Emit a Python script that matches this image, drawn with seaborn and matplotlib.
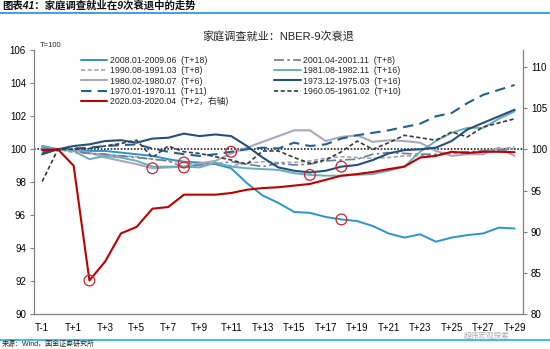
import numpy as np
import pandas as pd
import matplotlib
matplotlib.use("Agg")
import matplotlib.pyplot as plt
from matplotlib.lines import Line2D
import seaborn as sns

sns.set_style("white")
plt.rcParams['font.family'] = ['Liberation Sans', 'Noto Sans CJK SC', 'DejaVu Sans']
plt.rcParams['axes.unicode_minus'] = False

# ---------------- data ----------------
x_labels = ["T-1"] + [f"T+{k}" for k in range(0, 30)]

s2008 = [100.2, 100.0, 99.95, 99.9, 99.9, 99.8, 99.7, 99.6, 99.4, 99.25, 99.2, 99.1, 98.85, 97.95, 97.2,
         96.75, 96.2, 96.15, 95.9, 95.75, 95.65, 95.35, 94.9, 94.65, 94.85, 94.4, 94.65, 94.8, 94.9, 95.25, 95.2]
s1990 = [100.05, 100.0, 99.8, 99.75, 99.7, 99.6, 99.55, 99.4, 99.3, 99.2, 99.1, 99.1, 99.0, 99.15, 99.25,
         99.2, 99.2, 99.3, 99.45, 99.55, 99.5, 99.45, 99.5, 99.6, 99.6, 99.65, 99.75, 99.75, 99.9, 100.0, 100.15]
s1980 = [100.1, 100.0, 99.95, 99.8, 99.5, 99.3, 99.1, 98.85, 98.9, 98.95, 99.15, 99.3, 99.75, 100.1, 100.45,
         100.8, 101.15, 101.15, 100.5, 100.75, 100.85, 100.45, 100.55, 100.5, 100.4, 99.9, 99.6, 99.7, 99.7, 100.1, 99.6]
s1970 = [99.8, 100.0, 100.05, 100.1, 100.2, 100.25, 100.3, 100.05, 99.85, 99.7, 99.6, 99.7, 99.85, 100.0, 100.1,
         100.05, 100.4, 100.2, 100.3, 100.65, 100.85, 101.0, 101.15, 101.35, 101.55, 102.0, 102.2, 102.8, 103.3, 103.6, 103.9]
s2020 = [99.9, 100.0, 98.0, 84.1, 86.4, 89.8, 90.6, 92.8, 93.0, 94.5, 94.5, 94.5, 94.7, 95.1, 95.3,
         95.4, 95.6, 95.8, 96.3, 96.8, 97.0, 97.25, 97.6, 97.9, 99.0, 99.2, 99.7, 99.55, 99.7, 99.7, 99.65]
s2001 = [100.1, 100.0, 99.9, 99.75, 99.7, 99.6, 99.5, 99.4, 99.3, 98.9, 99.05, 99.1, 99.25, 99.1, 98.95,
         99.15, 99.05, 99.1, 99.3, 99.35, 99.4, 99.7, 99.8, 99.75, 99.7, 99.7, 99.8, 99.85, 99.9, 99.95, 100.05]
s1981 = [100.2, 100.0, 99.9, 99.4, 99.6, 99.5, 99.3, 98.95, 98.95, 98.95, 98.9, 99.2, 98.95, 98.85, 98.8,
         98.75, 98.55, 98.45, 98.4, 98.4, 98.45, 98.5, 98.7, 98.95, 99.85, 100.5, 101.0, 101.3, 101.3, 101.85, 102.3]
s1973 = [99.7, 100.0, 100.2, 100.3, 100.5, 100.55, 100.4, 100.65, 100.7, 100.95, 100.8, 100.9, 100.8, 100.2, 99.5,
         98.9, 98.7, 98.6, 98.7, 98.95, 99.05, 99.35, 99.75, 99.95, 100.0, 100.1, 100.5, 101.2, 101.6, 102.0, 102.4]
s1960 = [98.05, 100.0, 100.0, 100.05, 100.2, 100.35, 100.55, 99.5, 100.2, 99.85, 99.75, 99.55, 99.35, 99.1, 99.9,
         99.9, 99.5, 99.15, 99.35, 99.85, 100.5, 100.0, 100.4, 100.85, 100.7, 100.55, 101.05, 100.75, 101.35, 101.6, 101.85]

names = ["2008.01-2009.06  (T+18)", "1990.08-1991.03  (T+8)", "1980.02-1980.07  (T+6)",
         "1970.01-1970.11  (T+11)", "2020.03-2020.04  (T+2，右轴)",
         "2001.04-2001.11  (T+8)", "1981.08-1982.11  (T+16)", "1973.12-1975.03  (T+16)",
         "1960.05-1961.02  (T+10)"]
series = [s2008, s1990, s1980, s1970, s2020, s2001, s1981, s1973, s1960]
# recession-end markers: (series index, position index)
circle_marks = [(4, 3), (2, 7), (1, 9), (5, 9), (3, 12), (6, 17), (7, 19), (0, 19)]

# ---------------- styles ----------------
colors = ["#2B93CF", "#A3A3B3", "#ABA6BA", "#23618E", "#C00000",
          "#6B7C94", "#66AFBA", "#24507A", "#3A3A3A"]
styles = ["-", (0, (2.5, 1.5)), "-", (0, (5, 3)), "-",
          (0, (6, 2, 1.5, 2)), "-", "-", (0, (2.5, 1.5))]
widths = [1.4, 1.2, 1.5, 1.5, 1.5, 1.2, 1.4, 1.5, 1.2]

fig = plt.figure(figsize=(5.5, 3.49), dpi=100)
ax = fig.add_axes([34.3 / 550, 1 - 314.3 / 349, (522.5 - 34.3) / 550, (314.3 - 50.3) / 349])
ax2 = ax.twinx()

xs = np.arange(len(x_labels))
ax.axhline(100, color="#222222", lw=1.2, ls=(0, (1, 1)), zorder=1)

handles = []
for i, (nm, vals) in enumerate(zip(names, series)):
    target = ax2 if i == 4 else ax
    sns.lineplot(x=xs, y=vals, ax=target, color=colors[i], linestyle=styles[i], lw=widths[i],
                 zorder=3 if i != 4 else 4)
    handles.append(Line2D([], [], color=colors[i], linestyle=styles[i], lw=widths[i], label=nm))

for si, pi in circle_marks:
    target = ax2 if si == 4 else ax
    target.scatter([xs[pi]], [series[si][pi]], s=60, facecolors="none", edgecolors="#D0202A",
                   linewidths=0.9, zorder=6)

ax.set_xlim(-0.5, 30.5)
ax.set_ylim(90, 106)
ax2.set_ylim(80, 112)
ax.set_yticks(np.arange(90, 107, 2))
ax2.set_yticks(np.arange(80, 111, 5))
ax.set_xticks(xs[::2])
ax.set_xticklabels(x_labels[::2])
ax.set_xticks(np.arange(-0.5, 30, 2), minor=True)
ax.tick_params(axis="x", which="major", length=0, labelsize=7, pad=6, colors="#000000")
ax.tick_params(axis="x", which="minor", length=3, color="#808080", direction="out")
ax.tick_params(axis="y", length=3, labelsize=7, color="#808080", direction="out", pad=3)
ax2.tick_params(axis="y", length=3, labelsize=7, color="#808080", direction="out", pad=3)
for lab in ax.get_yticklabels() + ax2.get_yticklabels() + ax.get_xticklabels():
    lab.set_color("#000000")

for a in (ax, ax2):
    a.set_xlabel("")
    a.set_ylabel("")
    for s in a.spines.values():
        s.set_color("#808080")
        s.set_linewidth(0.9)
ax.spines["top"].set_visible(False)
ax.spines["right"].set_visible(False)
ax2.spines["top"].set_visible(False)
ax2.spines["left"].set_visible(False)
ax2.spines["bottom"].set_visible(False)

leg = ax.legend(handles=handles, ncol=2, loc="upper left", bbox_to_anchor=(0.088, 0.99),
                frameon=False, fontsize=6.3, handlelength=3.0, handletextpad=0.3,
                labelspacing=0.12, columnspacing=5.3, borderaxespad=0)

ax.text(0.012, 1.005, "T=100", transform=ax.transAxes, fontsize=5.5, va="bottom", ha="left")
fig.text(278 / 550, 1 - 36 / 349, "家庭调查就业：NBER-9次衰退", ha="center", va="center",
         fontsize=8, color="#222222")

# header / footer
fig.text(0.004, 1 - 6 / 349, "图表41：家庭调查就业在9次衰退中的走势", ha="left", va="center",
         fontsize=7.5, fontweight="bold", style="italic", color="#111111")
fig.add_artist(Line2D([0, 1], [1 - 13 / 349] * 2, color="#2E9BD6", lw=1.3, transform=fig.transFigure))
fig.add_artist(Line2D([0, 1], [1 - 339.5 / 349] * 2, color="#29B6F0", lw=1.3, transform=fig.transFigure))
fig.text(0.004, 1 - 344.5 / 349, "来源：Wind，国金证券研究所", ha="left", va="center",
         fontsize=5, color="#222222")
fig.text(487 / 550, 1 - 335.5 / 349, "超伟宏观探索", ha="center", va="center",
         fontsize=5.5, color="#9a9a9a", alpha=0.8)

fig.savefig("out.png", dpi=100)
